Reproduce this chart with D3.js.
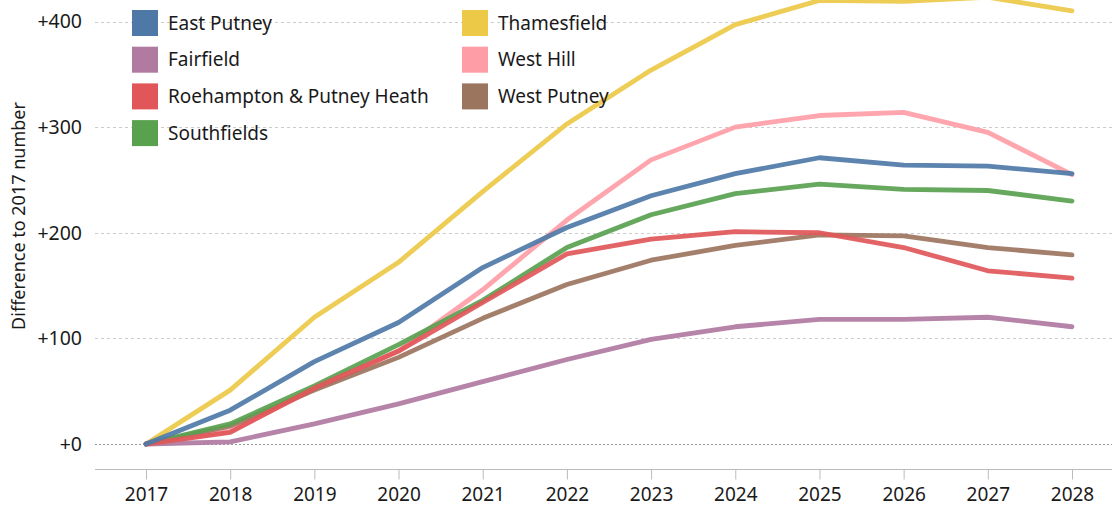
<!DOCTYPE html>
<html>
<head>
<meta charset="utf-8">
<script src="https://cdn.jsdelivr.net/npm/d3@7"></script>
<style>
body { margin: 0; background: #fff; }
svg text { font-family: "Noto Sans", "Open Sans", sans-serif; fill: #1a1a1a; }
</style>
</head>
<body>
<script>
// data
var years = [2017, 2018, 2019, 2020, 2021, 2022, 2023, 2024, 2025, 2026, 2027, 2028];
var wards = ["East Putney", "Fairfield", "Roehampton & Putney Heath", "Southfields", "Thamesfield", "West Hill", "West Putney"];
var colors = ["#4e79a7", "#b07aa1", "#e15759", "#59a14f", "#edc948", "#ff9da7", "#9c755f"];
var eastPutney = [0, 32, 78, 115, 167, 205, 235, 256, 271, 264, 263, 256];
var fairfield = [0, 2, 19, 38, 59, 80, 99, 111, 118, 118, 120, 111];
var roehampton = [0, 11, 53, 88, 134, 180, 194, 201, 200, 186, 164, 157];
var southfields = [0, 19, 55, 94, 136, 186, 217, 237, 246, 241, 240, 230];
var thamesfield = [0, 51, 120, 172, 239, 303, 354, 397, 420, 419, 423, 410];
var westHill = [0, 12, 52, 88, 146, 212, 269, 300, 311, 314, 295, 255];
var westPutney = [0, 17, 51, 82, 119, 151, 174, 188, 198, 197, 186, 179];
var yTicks = [0, 100, 200, 300, 400];

var series = [eastPutney, fairfield, roehampton, southfields, thamesfield, westHill, westPutney];
// draw order, back to front
var drawOrder = [4, 5, 6, 1, 3, 2, 0];

var width = 1112, height = 507;

var svg = d3.select("body").append("svg")
	.attr("width", width)
	.attr("height", height);

var x = d3.scalePoint()
	.domain(years)
	.range([146, 1072]);

var y = d3.scaleLinear()
	.domain([0, 400])
	.range([444, 21.5]);

// gridlines
svg.selectAll("line.grid")
	.data(yTicks)
	.enter()
	.append("line")
	.attr("class", "grid")
	.attr("x1", 95)
	.attr("x2", width)
	.attr("y1", function(d) { return Math.round(y(d)) + 0.5; })
	.attr("y2", function(d) { return Math.round(y(d)) + 0.5; })
	.attr("stroke", function(d) { return d == 0 ? "#999" : "#ccc"; })
	.attr("stroke-width", 1)
	.attr("stroke-dasharray", function(d) { return d == 0 ? "2,2" : "3,3"; });

// y tick labels
svg.selectAll("text.ytick")
	.data(yTicks)
	.enter()
	.append("text")
	.attr("class", "ytick")
	.attr("x", 82)
	.attr("y", function(d) { return y(d); })
	.attr("dy", "0.35em")
	.attr("text-anchor", "end")
	.style("font-size", "19.5px")
	.text(function(d) { return "+" + d; });

// y title
svg.append("text")
	.attr("transform", "translate(25,216) rotate(-90)")
	.attr("text-anchor", "middle")
	.style("font-size", "18px")
	.text("Difference to 2017 number");

// x axis
var xAxis = svg.append("g")
	.attr("transform", "translate(0,469.5)")
	.call(d3.axisBottom(x).tickSize(10).tickPadding(8));
xAxis.select(".domain").remove();
xAxis.append("line")
	.attr("x1", 95)
	.attr("x2", width)
	.attr("stroke", "#bbb");
xAxis.selectAll(".tick line").attr("stroke", "#bbb");
xAxis.selectAll(".tick text")
	.attr("fill", "#1a1a1a")
	.style("font-size", "19px")
	.style("font-family", "'Noto Sans', sans-serif");

// lines
var line = d3.line()
	.x(function(d, i) { return x(years[i]); })
	.y(function(d) { return y(d); });

svg.selectAll("path.series")
	.data(drawOrder)
	.enter()
	.append("path")
	.attr("class", "series")
	.attr("d", function(k) { return line(series[k]); })
	.attr("fill", "none")
	.attr("stroke", function(k) { return colors[k]; })
	.attr("stroke-width", 4.8)
	.attr("stroke-opacity", 0.92)
	.attr("stroke-linejoin", "round")
	.attr("stroke-linecap", "round");

// legend
var legend = svg.selectAll("g.legend")
	.data(wards)
	.enter()
	.append("g")
	.attr("class", "legend")
	.attr("transform", function(d, i) {
		var col = i < 4 ? 0 : 1;
		var row = i < 4 ? i : i - 4;
		return "translate(" + (132 + col * 330) + "," + (10 + row * 36.7) + ")";
	});

legend.append("rect")
	.attr("width", 26)
	.attr("height", 26)
	.attr("fill", function(d, i) { return colors[i]; });

legend.append("text")
	.attr("x", 36)
	.attr("y", 13)
	.attr("dy", "0.35em")
	.style("font-size", "19px")
	.text(function(d) { return d; });
</script>
</body>
</html>
